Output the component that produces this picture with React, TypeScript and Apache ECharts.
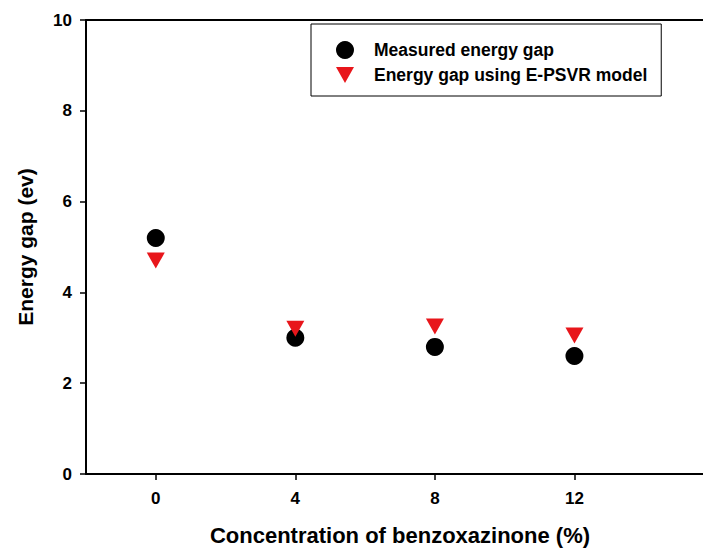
import React, { useEffect, useRef } from "react";
import * as echarts from "echarts";

const concentrations = [0, 4, 8, 12];
const measuredGap = [5.2, 3.0, 2.8, 2.6];
const modelGap = [4.7, 3.2, 3.25, 3.05];
const xTicks = [0, 4, 8, 12];
const seriesNames = ["Measured energy gap", "Energy gap using E-PSVR model"];
const xTitle = "Concentration of benzoxazinone (%)";
const yTitle = "Energy gap (ev)";

const FONT = "Liberation Sans";

export default function App() {
  const ref = useRef<HTMLDivElement>(null);
  useEffect(() => {
    if (!ref.current) return;
    const chart = echarts.init(ref.current, null, { renderer: "svg" });
    const labelStyle = { fontFamily: FONT, fontWeight: "bold", fontSize: 17, color: "#000" };
    chart.setOption({
      animation: false,
      backgroundColor: "#ffffff",
      grid: { left: 86, top: 20, bottom: 76, right: -11, show: false, containLabel: false, outerBoundsMode: "none" },
      legend: {
        left: 311,
        top: 24,
        orient: "vertical",
        borderColor: "#000",
        borderWidth: 1,
        padding: [17, 14, 12, 25],
        itemWidth: 18,
        itemHeight: 18,
        itemGap: 7,
        symbolKeepAspect: true,
        textStyle: { fontFamily: FONT, fontWeight: "bold", fontSize: 17.5, color: "#000", padding: [0, 0, 0, 15] },
        data: [
          { name: seriesNames[0], icon: "circle" },
          { name: seriesNames[1], icon: "path://M0,0 L18,0 L9,16 Z" },
        ],
      },
      xAxis: [
        {
          type: "value",
          min: -2,
          max: 16,
          position: "bottom",
          name: xTitle,
          nameLocation: "middle",
          nameGap: 50,
          nameTextStyle: { fontFamily: FONT, fontWeight: "bold", fontSize: 22, color: "#000" },
          axisLine: { show: true, onZero: false, lineStyle: { color: "#000", width: 2 } },
          axisTick: { show: true, length: 6, lineStyle: { color: "#000", width: 1.5 }, customValues: xTicks },
          axisLabel: { ...labelStyle, margin: 16, customValues: xTicks },
          splitLine: { show: false },
        },
        {
          type: "value",
          min: -2,
          max: 16,
          position: "top",
          axisLine: { show: true, onZero: false, lineStyle: { color: "#000", width: 2 } },
          axisTick: { show: false },
          axisLabel: { show: false },
          splitLine: { show: false },
        },
      ],
      yAxis: {
        type: "value",
        min: 0,
        max: 10,
        interval: 2,
        name: yTitle,
        nameLocation: "middle",
        nameGap: 50,
        nameTextStyle: { fontFamily: FONT, fontWeight: "bold", fontSize: 21, color: "#000" },
        axisLine: { show: true, onZero: false, lineStyle: { color: "#000", width: 2 } },
        axisTick: { show: true, length: 6, lineStyle: { color: "#000", width: 1.5 } },
        axisLabel: { ...labelStyle, margin: 14 },
        splitLine: { show: false },
      },
      series: [
        {
          name: seriesNames[0],
          type: "scatter",
          symbol: "circle",
          symbolSize: 18,
          itemStyle: { color: "#000", opacity: 1 },
          data: concentrations.map((c, i) => [c, measuredGap[i]]),
        },
        {
          name: seriesNames[1],
          type: "scatter",
          symbol: "triangle",
          symbolSize: [18, 16],
          symbolRotate: 180,
          itemStyle: { color: "#e8161b", opacity: 1 },
          data: concentrations.map((c, i) => [c, modelGap[i]]),
        },
      ],
    });
    return () => chart.dispose();
  }, []);
  return (
    <div
      ref={ref}
      style={{ position: "fixed", left: 0, top: 0, width: 703, height: 550, background: "#fff" }}
    />
  );
}
